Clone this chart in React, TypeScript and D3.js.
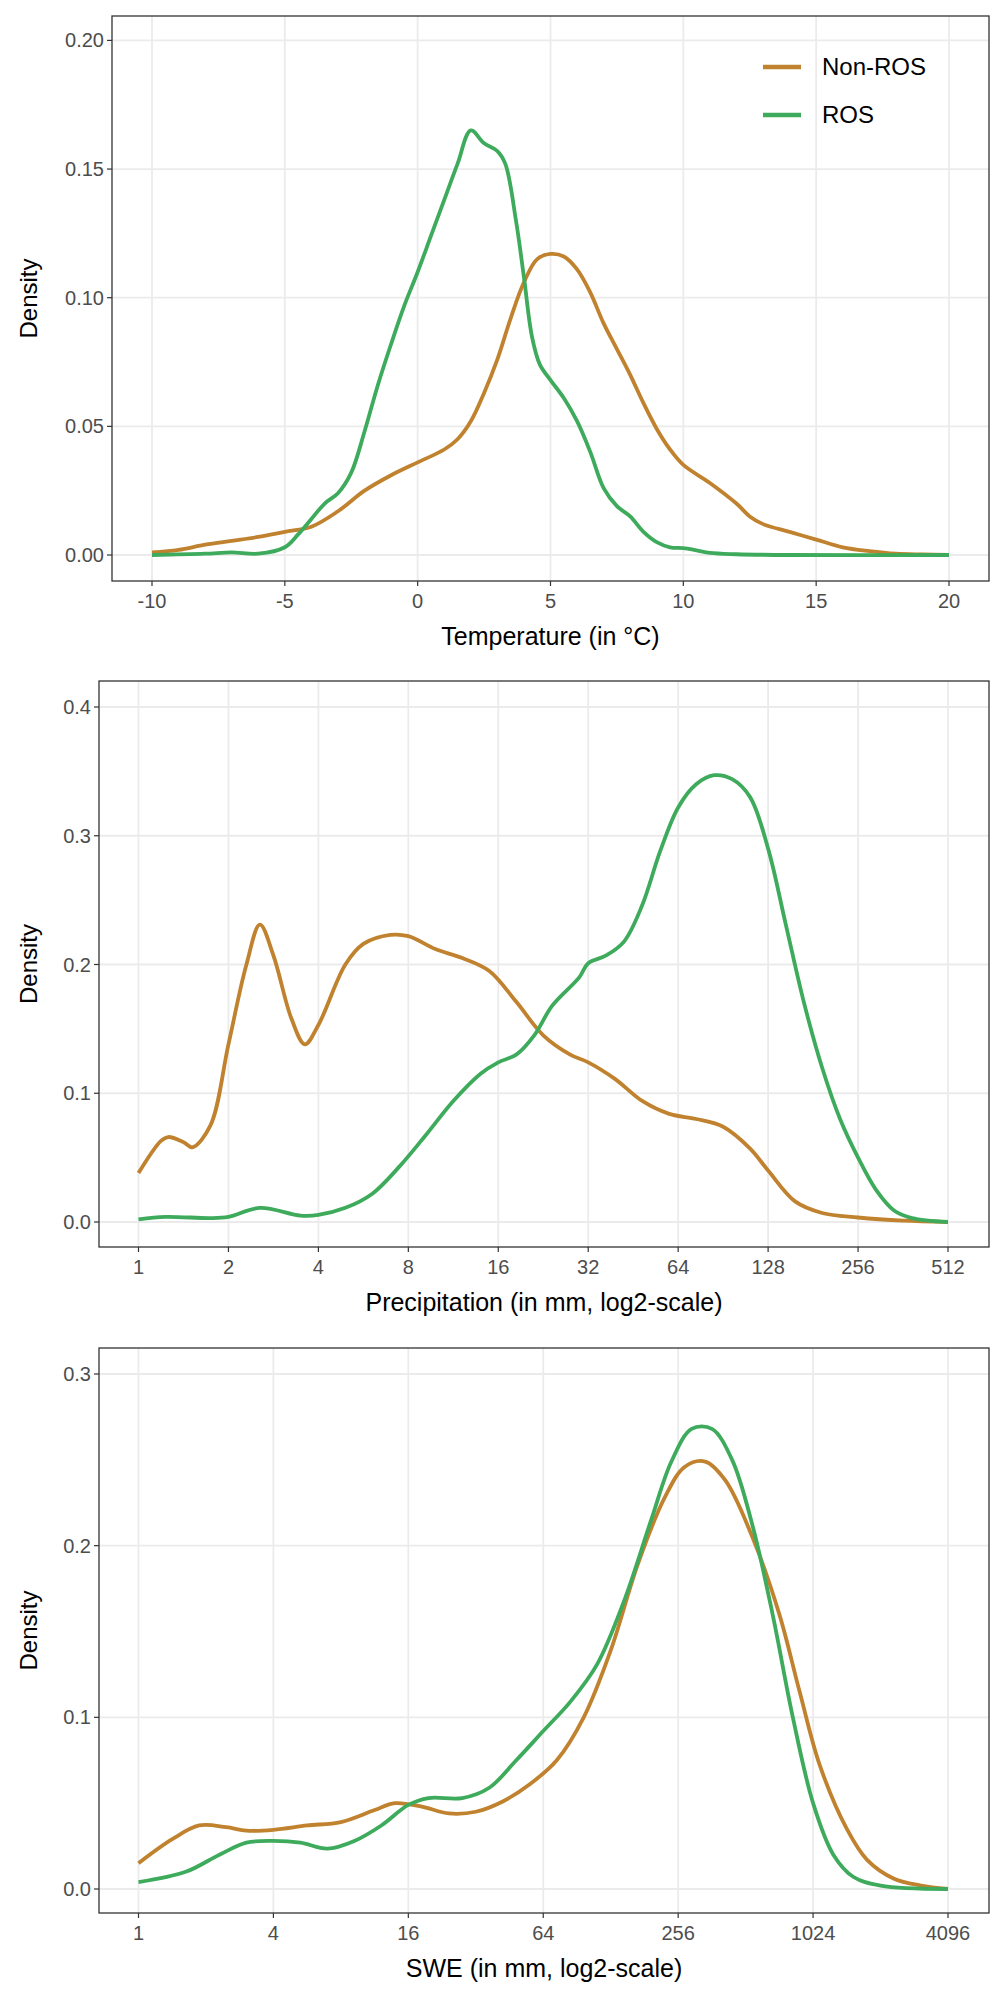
import React from "react";
import * as d3 from "d3";

const C_NON = "#c0822e";
const C_ROS = "#3dab5b";

const tempX = [-10,-9,-8,-7,-6,-5,-4,-3,-2,-1,0,1,1.5,2,2.5,3,3.5,4,4.5,5,5.5,6,6.5,7,7.5,8,8.5,9,9.5,10,11,12,12.5,13,14,15,16,17,18,19,20];
const tempNon = [.001,.002,.004,.0055,.007,.009,.011,.017,.025,.031,.036,.041,.045,.052,.063,.076,.092,.106,.115,.117,.116,.111,.102,.090,.080,.070,.059,.049,.041,.035,.028,.02,.015,.012,.009,.006,.003,.0015,.0005,.0002,0];
const tempRosX = [-10,-8,-7,-6,-5,-4.5,-4,-3.5,-3,-2.5,-2,-1.5,-1,-0.5,0,0.5,1,1.5,2,2.5,3,3.3,3.7,4,4.3,4.6,5,5.5,6,6.5,7,7.5,8,8.5,9,9.5,10,10.5,11,12,14,20];
const tempRos = [0,.0005,.001,.0005,.003,.008,.014,.02,.024,.032,.048,.066,.082,.097,.11,.124,.138,.152,.165,.16,.157,.152,.13,.108,.085,.074,.068,.061,.052,.04,.026,.019,.015,.009,.005,.003,.0027,.0018,.0008,.0003,0,0];

const precNonX = [0,.25,.33,.5,.6,.8,1,1.2,1.35,1.5,1.7,1.85,2,2.3,2.5,2.8,3,3.3,3.6,3.9,4.2,4.5,4.8,5,5.3,5.6,5.9,6.2,6.5,6.8,7,7.3,7.6,8,8.5,9];
const precNon = [.038,.063,.066,.062,.058,.075,.138,.2,.231,.207,.158,.138,.153,.2,.216,.223,.222,.212,.205,.195,.171,.145,.13,.124,.111,.094,.084,.080,.074,.057,.040,.016,.007,.0035,.001,0];
const precRosX = [0,.3,.8,1,1.35,1.8,2,2.3,2.6,2.9,3.2,3.5,3.8,4,4.2,4.4,4.6,4.9,5,5.2,5.4,5.6,5.8,6,6.2,6.4,6.6,6.8,7,7.2,7.4,7.6,7.8,8,8.2,8.4,8.6,9];
const precRos = [.002,.004,.003,.004,.011,.005,.0055,.011,.022,.043,.068,.094,.115,.124,.13,.145,.168,.19,.201,.207,.218,.246,.288,.322,.34,.347,.344,.33,.29,.23,.17,.12,.08,.05,.025,.009,.003,0];

const sweNonX = [0,.5,.9,1.3,1.6,2,2.5,3,3.5,3.8,4.2,4.6,5,5.4,5.8,6.2,6.6,7,7.4,7.8,8.1,8.4,8.7,9.1,9.5,9.8,10.1,10.5,10.8,11.2,11.6,12];
const sweNon = [.015,.029,.037,.036,.034,.0345,.037,.039,.046,.05,.048,.044,.045,.051,.061,.075,.1,.139,.189,.228,.246,.249,.238,.205,.16,.115,.072,.035,.017,.006,.002,0];
const sweRosX = [0,.7,1.2,1.6,2,2.4,2.8,3.2,3.6,4,4.3,4.8,5.2,5.6,6,6.4,6.8,7.2,7.6,7.9,8.2,8.5,8.8,9.1,9.4,9.7,10,10.3,10.6,11,12];
const sweRos = [.004,.01,.02,.027,.028,.027,.0235,.028,.037,.049,.053,.053,.059,.075,.092,.109,.131,.168,.215,.249,.268,.268,.25,.212,.16,.1,.05,.02,.007,.002,0];

const tempTicks = [-10,-5,0,5,10,15,20];
const tempYTicks = [0,0.05,0.1,0.15,0.2];
const precTicks = [0,1,2,3,4,5,6,7,8,9];
const precYTicks = [0,0.1,0.2,0.3,0.4];
const sweTicks = [0,2,4,6,8,10,12];
const sweYTicks = [0,0.1,0.2,0.3];

const NARROW = "'Liberation Sans Narrow', 'Liberation Sans', Arial, sans-serif";
const SANS = "'Liberation Sans', Arial, sans-serif";

type P = {
  left: number; right: number; top: number; bottom: number;
  x0: [number, number]; xr: [number, number];
  y0: [number, number]; yr: [number, number];
  xt: number[]; xl: (v: number) => string; yt: number[]; yl: (v: number) => string;
  title: string; non: [number[], number[]]; ros: [number[], number[]]; legend?: boolean;
};

function Panel(p: P) {
  const x = d3.scaleLinear().domain(p.x0).range(p.xr);
  const y = d3.scaleLinear().domain(p.y0).range(p.yr);
  const line = d3.line<[number, number]>().x(d => x(d[0])).y(d => y(d[1])).curve(d3.curveCatmullRom.alpha(0.5));
  const mk = (s: [number[], number[]]) => line(s[0].map((v, i) => [v, s[1][i]] as [number, number])) || "";
  const gray = "#ebebeb";
  return (
    <g>
      <rect x={p.left} y={p.top} width={p.right - p.left} height={p.bottom - p.top} fill="white" />
      {p.yt.map(t => <line key={"gy" + t} x1={p.left} x2={p.right} y1={y(t)} y2={y(t)} stroke={gray} strokeWidth={1.8} />)}
      {p.xt.map(t => <line key={"gx" + t} y1={p.top} y2={p.bottom} x1={x(t)} x2={x(t)} stroke={gray} strokeWidth={1.8} />)}
      <path d={mk(p.non)} fill="none" stroke={C_NON} strokeWidth={3.8} />
      <path d={mk(p.ros)} fill="none" stroke={C_ROS} strokeWidth={3.8} />
      <rect x={p.left} y={p.top} width={p.right - p.left} height={p.bottom - p.top} fill="none" stroke="#333" strokeWidth={1.3} />
      {p.yt.map(t => (
        <g key={"yt" + t}>
          <line x1={p.left - 5} x2={p.left} y1={y(t)} y2={y(t)} stroke="#333" strokeWidth={1.2} />
          <text x={p.left - 8} y={y(t)} dy="0.35em" textAnchor="end" fontFamily={NARROW} fontSize={20} fill="#4d4d4d">{p.yl(t)}</text>
        </g>
      ))}
      {p.xt.map(t => (
        <g key={"xt" + t}>
          <line y1={p.bottom} y2={p.bottom + 5} x1={x(t)} x2={x(t)} stroke="#333" strokeWidth={1.2} />
          <text y={p.bottom + 27} x={x(t)} textAnchor="middle" fontFamily={NARROW} fontSize={20} fill="#4d4d4d">{p.xl(t)}</text>
        </g>
      ))}
      <text x={(p.left + p.right) / 2} y={p.bottom + 64} textAnchor="middle" fontFamily={NARROW} fontSize={25} fill="#000">{p.title}</text>
      <text transform={`translate(37,${(p.top + p.bottom) / 2}) rotate(-90)`} textAnchor="middle" fontFamily={SANS} fontSize={24} fill="#000">Density</text>
      {p.legend && (
        <g>
          <line x1={763} x2={801} y1={67} y2={67} stroke={C_NON} strokeWidth={4.5} />
          <text x={822} y={67} dy="0.35em" fontFamily={NARROW} fontSize={24}>Non-ROS</text>
          <line x1={763} x2={801} y1={115} y2={115} stroke={C_ROS} strokeWidth={4.5} />
          <text x={822} y={115} dy="0.35em" fontFamily={NARROW} fontSize={24}>ROS</text>
        </g>
      )}
    </g>
  );
}

export default function App() {
  const f2 = (v: number) => v.toFixed(2);
  const f1 = (v: number) => v.toFixed(1);
  const pw = (v: number) => String(Math.pow(2, v));
  return (
    <svg width={1000} height={2000} style={{ position: "absolute", left: 0, top: 0 }}>
      <rect width={1000} height={2000} fill="white" />
      <Panel left={112} right={989} top={16} bottom={581} x0={[-10, 20]} xr={[152, 949]} y0={[0, 0.2]} yr={[555, 40.4]}
        xt={tempTicks} xl={v => String(v)} yt={tempYTicks} yl={f2} title="Temperature (in °C)"
        non={[tempX, tempNon]} ros={[tempRosX, tempRos]} legend />
      <Panel left={99} right={989} top={681} bottom={1247} x0={[0, 9]} xr={[138.5, 948]} y0={[0, 0.4]} yr={[1222, 707]}
        xt={precTicks} xl={pw} yt={precYTicks} yl={f1} title="Precipitation (in mm, log2-scale)"
        non={[precNonX, precNon]} ros={[precRosX, precRos]} />
      <Panel left={99} right={989} top={1348} bottom={1913} x0={[0, 12]} xr={[138.5, 948]} y0={[0, 0.3]} yr={[1889, 1374]}
        xt={sweTicks} xl={pw} yt={sweYTicks} yl={f1} title="SWE (in mm, log2-scale)"
        non={[sweNonX, sweNon]} ros={[sweRosX, sweRos]} />
    </svg>
  );
}
